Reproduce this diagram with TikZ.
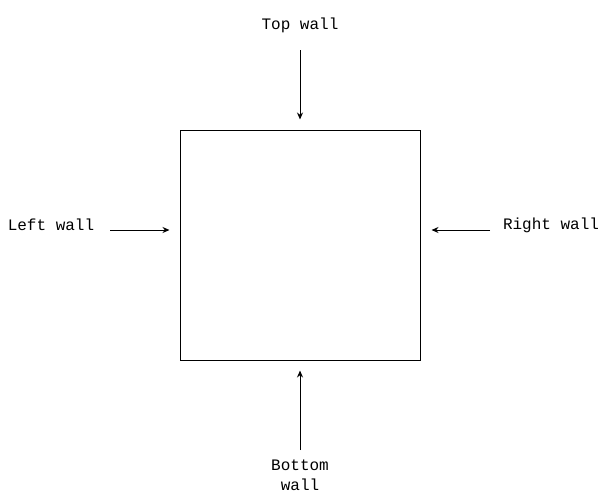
\documentclass[tikz,border=0pt]{standalone}
\usepackage{fontspec}
\setmonofont{Liberation Mono}
\usetikzlibrary{arrows.meta}
\usetikzlibrary{calc}

\begin{document}
\begin{tikzpicture}[x=1pt,y=-1pt,
  wall/.style={font=\ttfamily\fontsize{16}{20}\selectfont,align=center,inner sep=0pt},
  push/.style={line width=1pt,-{Stealth[length=7pt,width=6pt]},shorten >=10pt}]
\useasboundingbox (0,0) rectangle (601,501);
\node [draw,line width=1pt,minimum width=240,minimum height=230,inner sep=0pt] (room) at (300,245) {};

\node [wall] (top) at (300,25) {Top wall};
\node [wall] (left) at (51,225) {Left wall};
\node [wall] (right) at (551,225) {Right wall};
\node [wall] (bottom) at (300,475) {Bottom\\wall};

\coordinate (topstart) at (300,50);
\coordinate (leftstart) at (110,230);
\coordinate (rightstart) at (490,230);
\coordinate (bottomstart) at (300,450);

\draw [push] (topstart) -- (room.north);
\draw [push] (leftstart) -- (room.west |- leftstart);
\draw [push,shorten >=11pt] (rightstart) -- (room.east |- rightstart);
\draw [push] (bottomstart) -- (room.south);
\end{tikzpicture}
\end{document}
